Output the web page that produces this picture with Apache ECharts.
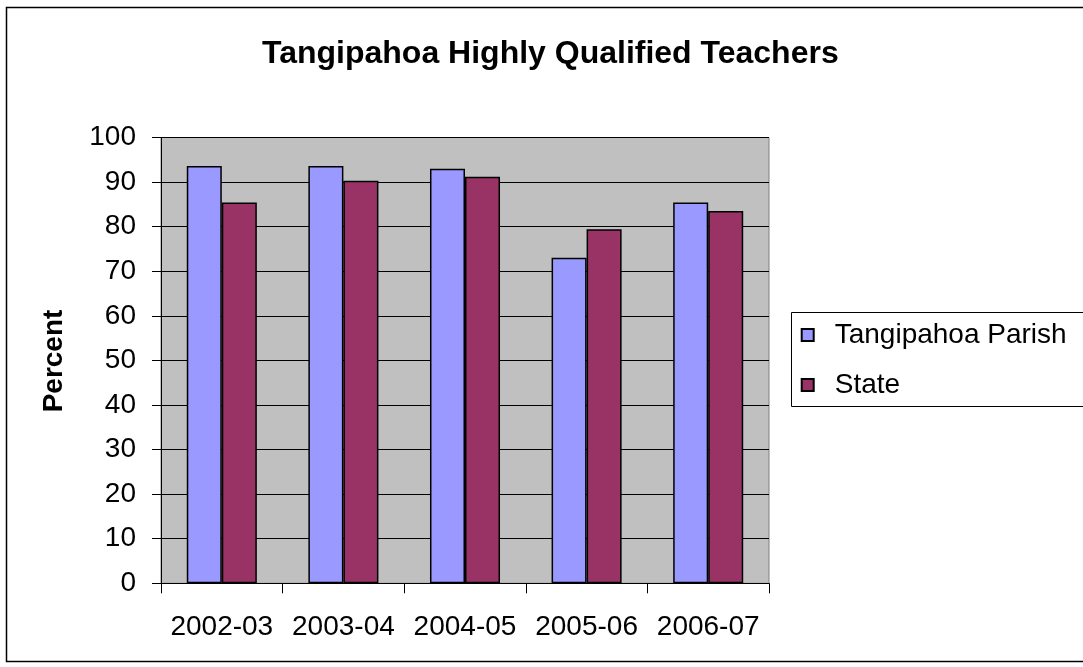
<!DOCTYPE html>
<html>
<head>
<meta charset="utf-8">
<script src="https://cdn.jsdelivr.net/npm/echarts@6/dist/echarts.min.js"></script>
<style>
html,body{margin:0;padding:0;background:#fff;}
#chart{width:1083px;height:667px;}
</style>
</head>
<body>
<div id="chart"></div>
<script>
const categories = ['2002-03', '2003-04', '2004-05', '2005-06', '2006-07'];
const parishValues = [93.6, 93.6, 93.0, 73.0, 85.4];
const stateValues = [85.4, 90.3, 91.2, 79.4, 83.5];
const seriesNames = ['Tangipahoa Parish', 'State'];
const titleText = 'Tangipahoa Highly Qualified Teachers';
const yAxisTitle = 'Percent';

const FONT = "'Liberation Sans', Arial, sans-serif";
const chart = echarts.init(document.getElementById('chart'), null, {renderer: 'canvas'});
chart.setOption({
  animation: false,
  backgroundColor: '#ffffff',
  title: {
    text: titleText,
    left: 262,
    top: 38,
    padding: 0,
    textStyle: {fontFamily: FONT, fontSize: 32, fontWeight: 'bold', color: '#000'}
  },
  grid: {
    left: 161, right: 314, top: 137.5, bottom: 83.7,
    show: true, backgroundColor: '#C0C0C0', borderColor: '#808080', borderWidth: 1
  },
  legend: {
    orient: 'vertical',
    left: 800.7,
    top: 320,
    padding: 0,
    itemWidth: 12,
    itemHeight: 12,
    itemGap: 20,
    icon: 'rect',
    textStyle: {fontFamily: FONT, fontSize: 28, color: '#000', lineHeight: 30, padding: [0, 0, 0, 16]},
    data: seriesNames
  },
  xAxis: {
    type: 'category',
    data: categories,
    boundaryGap: true,
    axisLine: {lineStyle: {color: '#000', width: 1}},
    axisTick: {show: true, interval: 0, length: 10, inside: false, alignWithLabel: false, lineStyle: {color: '#000'}},
    axisLabel: {interval: 0, fontFamily: FONT, fontSize: 28, color: '#000', margin: 30}
  },
  yAxis: {
    type: 'value',
    min: 0, max: 100, interval: 10,
    axisLine: {show: true, lineStyle: {color: '#000', width: 1}},
    axisTick: {show: true, length: 9, inside: false, lineStyle: {color: '#000'}},
    axisLabel: {fontFamily: FONT, fontSize: 28, color: '#000', margin: 25},
    splitLine: {show: true, lineStyle: {color: '#000', width: 1}}
  },
  graphic: [
    {type: 'rect', shape: {x: 6.5, y: 7.5, width: 1200, height: 654}, style: {fill: 'none', stroke: '#000', lineWidth: 1.5}, z: -10, silent: true},
    {type: 'rect', shape: {x: 791.5, y: 312.5, width: 400, height: 94}, style: {fill: 'none', stroke: '#000', lineWidth: 1}, z: 10, silent: true},
    {type: 'text', x: 54, y: 361, rotation: Math.PI / 2,
     style: {text: yAxisTitle, fontFamily: FONT, fontSize: 28, fontWeight: 'bold', fill: '#000', textAlign: 'center', textVerticalAlign: 'middle'}, z: 10}
  ],
  series: [
    {
      name: seriesNames[0], type: 'bar', data: parishValues,
      barGap: '0%', barCategoryGap: '42.4%',
      itemStyle: {color: '#9999FF', borderColor: '#000', borderWidth: 1.5}
    },
    {
      name: seriesNames[1], type: 'bar', data: stateValues,
      barGap: '0%', barCategoryGap: '42.4%',
      itemStyle: {color: '#993366', borderColor: '#000', borderWidth: 1.5}
    }
  ]
});
</script>
</body>
</html>
